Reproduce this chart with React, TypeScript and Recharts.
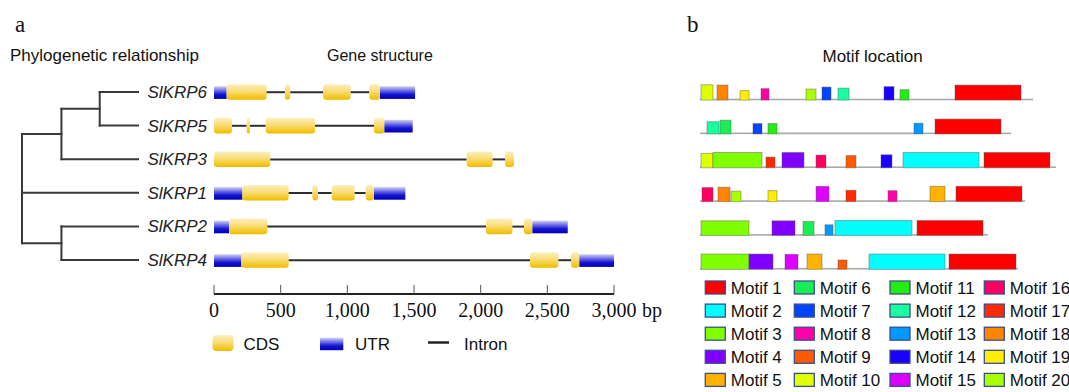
import { ComposedChart, Bar, XAxis, YAxis, ReferenceLine } from "recharts";

// ---------------------------------------------------------------------------
// Data
// ---------------------------------------------------------------------------

const GENES = ["SlKRP6", "SlKRP5", "SlKRP3", "SlKRP1", "SlKRP2", "SlKRP4"];

// Gene structure in bp: [feature, start, end]
const SLKRP6_STRUCT = [
  ["UTR", 0, 95], ["CDS", 95, 395], ["intron", 395, 532], ["CDS", 532, 572],
  ["intron", 572, 818], ["CDS", 818, 1025], ["intron", 1025, 1165],
  ["CDS", 1165, 1245], ["UTR", 1245, 1508],
];
const SLKRP5_STRUCT = [
  ["CDS", 0, 135], ["intron", 135, 245], ["CDS", 245, 270], ["intron", 270, 388],
  ["CDS", 388, 758], ["intron", 758, 1200], ["CDS", 1200, 1278], ["UTR", 1278, 1490],
];
const SLKRP3_STRUCT = [
  ["CDS", 0, 422], ["intron", 422, 1895], ["CDS", 1895, 2090],
  ["intron", 2090, 2183], ["CDS", 2183, 2250],
];
const SLKRP1_STRUCT = [
  ["UTR", 0, 213], ["CDS", 213, 560], ["intron", 560, 738], ["CDS", 738, 780],
  ["intron", 780, 883], ["CDS", 883, 1055], ["intron", 1055, 1138],
  ["CDS", 1138, 1200], ["UTR", 1200, 1435],
];
const SLKRP2_STRUCT = [
  ["UTR", 0, 113], ["CDS", 113, 400], ["intron", 400, 2040], ["CDS", 2040, 2238],
  ["intron", 2238, 2325], ["CDS", 2325, 2388], ["UTR", 2388, 2653],
];
const SLKRP4_STRUCT = [
  ["UTR", 0, 205], ["CDS", 205, 560], ["intron", 560, 2370], ["CDS", 2370, 2583],
  ["intron", 2583, 2678], ["CDS", 2678, 2740], ["UTR", 2740, 3000],
];
const GENE_STRUCTS = [
  SLKRP6_STRUCT, SLKRP5_STRUCT, SLKRP3_STRUCT,
  SLKRP1_STRUCT, SLKRP2_STRUCT, SLKRP4_STRUCT,
];

const BP_TICKS = [0, 500, 1000, 1500, 2000, 2500, 3000];

// Cladogram: internal nodes listed children-first, depth 0 = root, leaves = 1
const TREE_NODES = [
  { name: "n65", depth: 0.67, children: ["SlKRP6", "SlKRP5"] },
  { name: "n653", depth: 0.34, children: ["n65", "SlKRP3"] },
  { name: "n24", depth: 0.34, children: ["SlKRP2", "SlKRP4"] },
  { name: "root", depth: 0, children: ["n653", "SlKRP1", "n24"] },
];

// Motifs: [motif no, start, end, relative height]
const SLKRP6_MOTIFS = [
  [10, 1, 13, 1.0], [18, 17, 28, 0.98], [19, 40, 49, 0.62], [8, 61, 69, 0.75],
  [20, 106, 116, 0.72], [7, 122, 131, 0.85], [12, 138, 149, 0.78],
  [14, 184, 194, 0.88], [11, 200, 209, 0.68], [1, 255, 321, 0.98],
];
const SLKRP5_MOTIFS = [
  [12, 7, 19, 0.8], [6, 20, 31, 0.9], [7, 53, 62, 0.68], [11, 68, 77, 0.68],
  [13, 214, 223, 0.7], [1, 235, 301, 0.97],
];
const SLKRP3_MOTIFS = [
  [10, 1, 13, 0.94], [3, 13, 62, 1.0], [17, 66, 75, 0.7], [4, 82, 104, 1.0],
  [16, 116, 126, 0.83], [9, 146, 156, 0.8], [14, 181, 192, 0.85],
  [2, 203, 279, 1.0], [1, 284, 350, 1.0],
];
const SLKRP1_MOTIFS = [
  [16, 2, 13, 0.92], [18, 18, 30, 0.94], [20, 31, 41, 0.68], [19, 68, 77, 0.72],
  [15, 116, 129, 1.0], [17, 146, 156, 0.74], [8, 188, 197, 0.72],
  [5, 230, 245, 1.0], [1, 256, 322, 1.0],
];
const SLKRP2_MOTIFS = [
  [3, 1, 49, 0.96], [4, 72, 95, 0.96], [6, 103, 114, 0.92], [13, 125, 133, 0.7],
  [2, 135, 212, 0.98], [1, 217, 283, 0.98],
];
const SLKRP4_MOTIFS = [
  [3, 1, 49, 1.0], [4, 49, 73, 1.0], [15, 85, 98, 0.98], [5, 107, 122, 1.0],
  [9, 138, 147, 0.61], [2, 169, 245, 1.0], [1, 249, 316, 1.0],
];
const MOTIF_SETS = [
  SLKRP6_MOTIFS, SLKRP5_MOTIFS, SLKRP3_MOTIFS,
  SLKRP1_MOTIFS, SLKRP2_MOTIFS, SLKRP4_MOTIFS,
];
const PROTEIN_LENGTHS = [333, 311, 356, 325, 288, 318];

const MOTIF_COLORS = [
  "#ff0000", "#00ffff", "#80ff00", "#8000ff", "#ffb300",
  "#1aee55", "#0044ff", "#ff00a8", "#ff5a00", "#e0ff00",
  "#22ee11", "#1affa0", "#0099ff", "#1a00ff", "#dd00ff",
  "#ff0062", "#ff2a00", "#ff8400", "#ffee00", "#aaff00",
];

// ---------------------------------------------------------------------------
// Helpers
// ---------------------------------------------------------------------------

const SANS = '"Liberation Sans", Arial, Helvetica, sans-serif';
const SERIF = '"Liberation Serif", "Times New Roman", serif';

const geneRows = GENES.map((gene, r) => {
  const row: Record<string, any> = { gene };
  GENE_STRUCTS[r].forEach(([kind, s, e], i) => {
    row[`g${i}`] = (e as number) - (s as number);
    row[`k${i}`] = kind;
  });
  return row;
});
const GENE_SEGS = Math.max(...GENE_STRUCTS.map((s) => s.length));
geneRows.forEach((row) => {
  for (let i = 0; i < GENE_SEGS; i++) if (row[`g${i}`] === undefined) row[`g${i}`] = 0;
});

// motifs become a stack of gap / motif pieces along the protein
const motifRows = MOTIF_SETS.map((motifs, r) => {
  const row: Record<string, any> = { gene: GENES[r] };
  let cursor = 0;
  let i = 0;
  const push = (len: number, id: number, h: number) => {
    row[`m${i}`] = len;
    row[`id${i}`] = id;
    row[`h${i}`] = h;
    i++;
  };
  for (const [m, s, e, h] of motifs) {
    if (s > cursor) push(s - cursor, 0, 0);
    push(e - Math.max(s, cursor), m, h);
    cursor = e;
  }
  if (PROTEIN_LENGTHS[r] > cursor) push(PROTEIN_LENGTHS[r] - cursor, 0, 0);
  row.n = i;
  return row;
});
const MOTIF_SEGS = Math.max(...motifRows.map((r) => r.n));
motifRows.forEach((row) => {
  for (let i = 0; i < MOTIF_SEGS; i++) if (row[`m${i}`] === undefined) row[`m${i}`] = 0;
});

// tree segments
const nodeY: Record<string, number> = {};
const nodeX: Record<string, number> = {};
GENES.forEach((g, i) => {
  nodeY[g] = i;
  nodeX[g] = 1;
});
const treeSegments: { x1: number; y1: number; x2: number; y2: number }[] = [];
for (const n of TREE_NODES) {
  const ys = n.children.map((c) => nodeY[c]);
  const lo = Math.min(...ys);
  const hi = Math.max(...ys);
  nodeY[n.name] = (lo + hi) / 2;
  nodeX[n.name] = n.depth;
  treeSegments.push({ x1: n.depth, y1: lo, x2: n.depth, y2: hi });
  for (const c of n.children) {
    treeSegments.push({ x1: n.depth, y1: nodeY[c], x2: nodeX[c], y2: nodeY[c] });
  }
}

// ---------------------------------------------------------------------------
// Shapes / ticks
// ---------------------------------------------------------------------------

function GeneSegment(props: any) {
  const { x, y, width, height, payload, idx } = props;
  const kind = payload?.[`k${idx}`];
  if (!kind || !(width > 0)) return null;
  const cy = y + height / 2;
  if (kind === "intron") {
    return <line x1={x} x2={x + width} y1={cy} y2={cy} stroke="#2e2e2e" strokeWidth={2} />;
  }
  if (kind === "UTR") {
    return <rect x={x} y={cy - 6} width={width} height={12.7} fill="url(#utrGrad)" />;
  }
  return <rect x={x} y={cy - 8} width={width} height={15.6} rx={3} ry={3} fill="url(#cdsGrad)" />;
}

function MotifSegment(props: any) {
  const { x, y, width, height, payload, idx } = props;
  const id = payload?.[`id${idx}`];
  if (id === undefined || !(width > 0)) return null;
  const base = y + height;
  if (id === 0) {
    return (
      <line x1={x} x2={x + width} y1={base - 0.6} y2={base - 0.6} stroke="#a9a9a9" strokeWidth={1.6} />
    );
  }
  const h = 15.3 * payload[`h${idx}`];
  return (
    <rect
      x={x}
      y={base - h}
      width={width}
      height={h}
      fill={MOTIF_COLORS[id - 1]}
      stroke="#555"
      strokeOpacity={0.45}
      strokeWidth={1}
    />
  );
}

function BpTick(props: any) {
  const { x, y, payload } = props;
  const v = payload.value as number;
  return (
    <g>
      <line x1={x} x2={x} y1={y} y2={y - 9} stroke="#555" strokeWidth={1} />
      <text x={x} y={y + 23} textAnchor="middle" fontFamily={SERIF} fontSize={20} fill="#111">
        {v.toLocaleString("en-US")}
      </text>
      {v === BP_TICKS[BP_TICKS.length - 1] && (
        <text x={x + 28} y={y + 23} textAnchor="start" fontFamily={SERIF} fontSize={20} fill="#111">
          bp
        </text>
      )}
    </g>
  );
}

function GeneTick(props: any) {
  const { x, y, payload } = props;
  return (
    <text x={x} y={y + 6} textAnchor="end" fontFamily={SANS} fontStyle="italic" fontSize={17} fill="#222">
      {payload.value}
    </text>
  );
}

// ---------------------------------------------------------------------------
// Component
// ---------------------------------------------------------------------------

const LEGEND_COL_X = [705.3, 794.3, 890, 984.3];

export default function App() {
  return (
    <div style={{ position: "relative", width: 1069, height: 392, background: "#fff", overflow: "hidden" }}>
      <style>{"body{margin:0}"}</style>

      {/* phylogenetic tree */}
      <div style={{ position: "absolute", left: 0, top: 0 }}>
        <ComposedChart
          width={150}
          height={300}
          data={GENES.map((g, i) => ({ x: 1, y: i }))}
          margin={{ top: 75.2, right: 12, bottom: 23.2, left: 22 }}
        >
          <XAxis type="number" dataKey="x" domain={[0, 1]} hide />
          <YAxis type="number" dataKey="y" domain={[-0.5, 5.5]} reversed hide />
          {treeSegments.map((s, i) => (
            <ReferenceLine
              key={i}
              segment={[{ x: s.x1, y: s.y1 }, { x: s.x2, y: s.y2 }]}
              stroke="#3a3a3a"
              strokeWidth={2}
              strokeLinecap="square"
              ifOverflow="visible"
            />
          ))}
        </ComposedChart>
      </div>

      {/* gene structure */}
      <div style={{ position: "absolute", left: 0, top: 0 }}>
        <ComposedChart
          layout="vertical"
          width={680}
          height={330}
          data={geneRows}
          margin={{ top: 75.2, right: 66, bottom: 0, left: 134 }}
        >
          <defs>
            <linearGradient id="cdsGrad" x1="0" y1="0" x2="0" y2="1">
              <stop offset="0%" stopColor="#fcefc0" />
              <stop offset="45%" stopColor="#f9dd78" />
              <stop offset="85%" stopColor="#f4c619" />
              <stop offset="100%" stopColor="#eab800" />
            </linearGradient>
            <linearGradient id="utrGrad" x1="0" y1="0" x2="0" y2="1">
              <stop offset="0%" stopColor="#d4d4f6" />
              <stop offset="35%" stopColor="#6a6ae4" />
              <stop offset="65%" stopColor="#1414d2" />
              <stop offset="100%" stopColor="#0000b4" />
            </linearGradient>
          </defs>
          <XAxis
            type="number"
            domain={[0, 3000]}
            ticks={BP_TICKS}
            interval={0}
            height={36}
            tickSize={0}
            tickMargin={0}
            tickLine={false}
            axisLine={{ stroke: "#222", strokeWidth: 2 }}
            tick={(p: any) => <BpTick {...p} />}
          />
          <YAxis
            type="category"
            dataKey="gene"
            width={80}
            padding={{ top: 0, bottom: 17.2 }}
            axisLine={false}
            tickLine={false}
            tickSize={0}
            tickMargin={7}
            interval={0}
            tick={(p: any) => <GeneTick {...p} />}
          />
          {Array.from({ length: GENE_SEGS }, (_, i) => (
            <Bar
              key={i}
              dataKey={`g${i}`}
              stackId="gene"
              barSize={16}
              isAnimationActive={false}
              shape={(p: any) => <GeneSegment {...p} idx={i} />}
            />
          ))}
        </ComposedChart>
      </div>

      {/* motif location */}
      <div style={{ position: "absolute", left: 690, top: 0 }}>
        <ComposedChart
          layout="vertical"
          width={379}
          height={300}
          data={motifRows}
          margin={{ top: 75.1, right: 9, bottom: 21.8, left: 10 }}
        >
          <XAxis type="number" domain={[0, 360]} hide />
          <YAxis type="category" dataKey="gene" hide />
          {Array.from({ length: MOTIF_SEGS }, (_, i) => (
            <Bar
              key={i}
              dataKey={`m${i}`}
              stackId="motif"
              barSize={16}
              isAnimationActive={false}
              shape={(p: any) => <MotifSegment {...p} idx={i} />}
            />
          ))}
        </ComposedChart>
      </div>

      {/* titles and legends */}
      <svg
        width={1069}
        height={392}
        style={{ position: "absolute", left: 0, top: 0, pointerEvents: "none" }}
      >
        <defs>
          <linearGradient id="cdsGradLeg" x1="0" y1="0" x2="0" y2="1">
            <stop offset="0%" stopColor="#fcefc0" />
            <stop offset="45%" stopColor="#f9dd78" />
            <stop offset="85%" stopColor="#f4c619" />
            <stop offset="100%" stopColor="#eab800" />
          </linearGradient>
          <linearGradient id="utrGradLeg" x1="0" y1="0" x2="0" y2="1">
            <stop offset="0%" stopColor="#d4d4f6" />
            <stop offset="35%" stopColor="#6a6ae4" />
            <stop offset="65%" stopColor="#1414d2" />
            <stop offset="100%" stopColor="#0000b4" />
          </linearGradient>
        </defs>

        <text x={15} y={31.5} fontFamily={SERIF} fontSize={23} fill="#111">a</text>
        <text x={687} y={31.5} fontFamily={SERIF} fontSize={23} fill="#111">b</text>
        <text x={10} y={61} fontFamily={SANS} fontSize={17} fill="#111">Phylogenetic relationship</text>
        <text x={327} y={61} fontFamily={SANS} fontSize={16} fill="#111">Gene structure</text>
        <text x={822.5} y={61.5} fontFamily={SANS} fontSize={17} fill="#111">Motif location</text>

        {/* gene structure legend */}
        <rect x={212.5} y={335} width={21} height={16} rx={4} fill="url(#cdsGradLeg)" />
        <text x={243.5} y={349.5} fontFamily={SANS} fontSize={17} fill="#111">CDS</text>
        <rect x={320} y={337.7} width={23.3} height={12.5} fill="url(#utrGradLeg)" />
        <text x={355} y={349.5} fontFamily={SANS} fontSize={17} fill="#111">UTR</text>
        <line x1={428} x2={449} y1={342.5} y2={342.5} stroke="#222" strokeWidth={2.5} />
        <text x={464} y={349.5} fontFamily={SANS} fontSize={17} fill="#111">Intron</text>

        {/* motif legend */}
        {MOTIF_COLORS.map((c, k) => {
          const col = Math.floor(k / 5);
          const row = k % 5;
          const cy = 287.5 + row * 23.1;
          const bx = LEGEND_COL_X[col];
          return (
            <g key={k}>
              <rect x={bx} y={cy - 6.5} width={20} height={13} fill={c} stroke="#3a4f8c" strokeWidth={1.3} />
              <text x={bx + 25.5} y={cy + 6.2} fontFamily={SANS} fontSize={17} fill="#111">
                {`Motif ${k + 1}`}
              </text>
            </g>
          );
        })}
      </svg>
    </div>
  );
}
